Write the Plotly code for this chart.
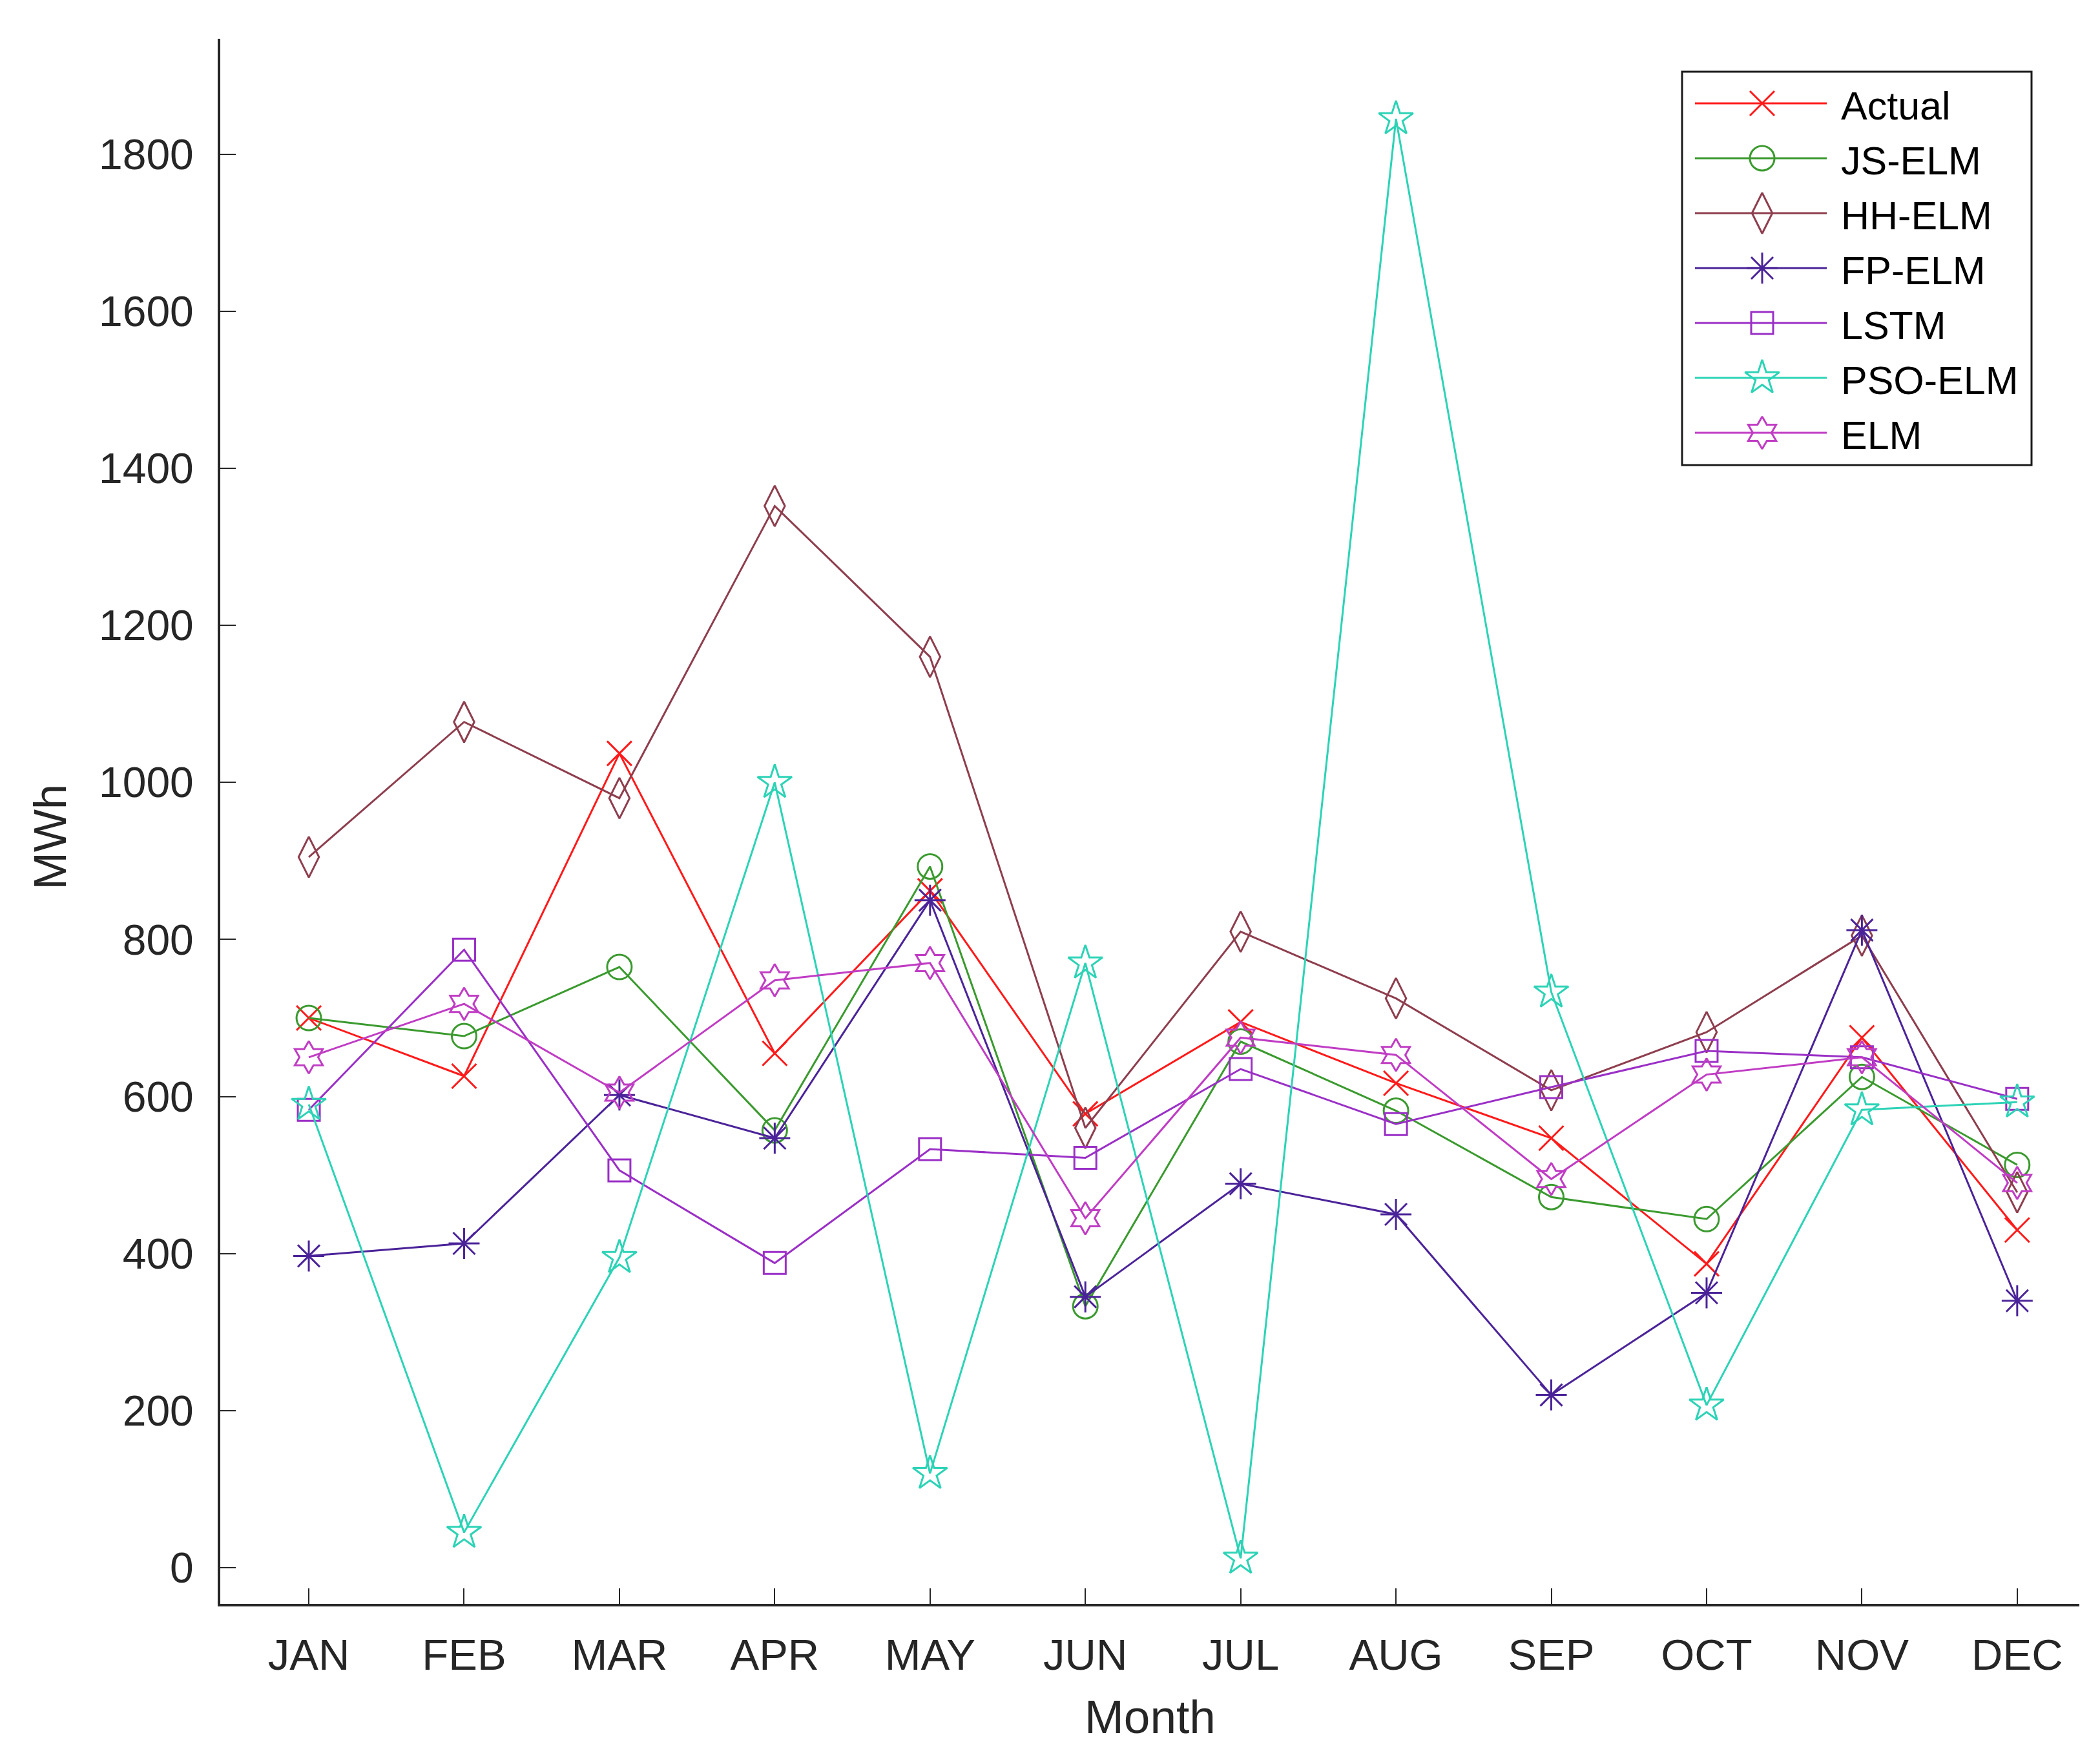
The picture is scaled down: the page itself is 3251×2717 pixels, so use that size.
import plotly.graph_objects as go

months = ["JAN", "FEB", "MAR", "APR", "MAY", "JUN", "JUL", "AUG", "SEP", "OCT", "NOV", "DEC"]
month_idx = list(range(1, 13))

actual = [700, 626, 1037, 655, 862, 578, 695, 617, 547, 387, 675, 430]
js_elm = [700, 677, 765, 557, 893, 333, 670, 582, 472, 444, 625, 513]
hh_elm = [905, 1077, 980, 1352, 1160, 560, 810, 725, 608, 682, 805, 478]
fp_elm = [397, 413, 602, 547, 850, 345, 489, 450, 220, 350, 812, 340]
lstm = [583, 787, 506, 388, 533, 522, 635, 565, 612, 658, 650, 597]
pso_elm = [590, 45, 395, 1000, 120, 770, 12, 1845, 733, 207, 583, 593]
elm = [650, 718, 605, 748, 770, 445, 675, 653, 495, 628, 650, 490]

y_ticks = [0, 200, 400, 600, 800, 1000, 1200, 1400, 1600, 1800]

series = [
    ("Actual", actual, "#FF1A1A", "x-thin-open", 38),
    ("JS-ELM", js_elm, "#3A9A2E", "circle-open", 38),
    ("HH-ELM", hh_elm, "#8E3E4E", "diamond-tall-open", 45),
    ("FP-ELM", fp_elm, "#4B2399", "asterisk-open", 40),
    ("LSTM", lstm, "#9A2FC6", "square-open", 34),
    ("PSO-ELM", pso_elm, "#2CD3B6", "star-open", 40),
    ("ELM", elm, "#C03CC4", "hexagram-open", 38),
]

# canvas / plot-area geometry (pixels)
W, H = 3251, 2717
ML, MR, MT, MB = 333, 40, 52, 242
PW, PH = W - ML - MR, H - MT - MB


def px_x(p):
    return (p - ML) / PW


def px_y(p):
    return (H - MB - p) / PH


font = "Liberation Sans, Arial, sans-serif"
txt = "#262626"

fig = go.Figure()
for name, vals, color, sym, size in series:
    fig.add_trace(go.Scatter(
        x=month_idx, y=vals, name=name, mode="lines+markers", showlegend=False,
        line=dict(color=color, width=3),
        marker=dict(symbol=sym, size=size, color=color, line=dict(color=color, width=3)),
    ))

# custom legend (MATLAB style: long line sample with marker in the middle)
box_l, box_r, box_t, box_b = 2596, 3137, 103, 712
row0, row_step = 152, 85
line_l, line_r, mark_x, text_x = 2616, 2820, 2720, 2840

shapes = [dict(type="rect", xref="paper", yref="paper",
               x0=px_x(box_l), x1=px_x(box_r), y0=px_y(box_b), y1=px_y(box_t),
               line=dict(color="#1a1a1a", width=3), fillcolor="white", layer="below")]
annotations = []
for i, (name, vals, color, sym, size) in enumerate(series):
    ry = px_y(row0 + row_step * i)
    fig.add_trace(go.Scatter(
        x=[px_x(line_l), px_x(line_r)], y=[ry, ry], mode="lines", xaxis="x2", yaxis="y2",
        showlegend=False, hoverinfo="skip", line=dict(color=color, width=3), cliponaxis=False,
    ))
    fig.add_trace(go.Scatter(
        x=[px_x(mark_x)], y=[ry], mode="markers", xaxis="x2", yaxis="y2",
        showlegend=False, hoverinfo="skip", cliponaxis=False,
        marker=dict(symbol=sym, size=size, color=color, line=dict(color=color, width=3)),
    ))
    annotations.append(dict(text=name, xref="paper", yref="paper", x=px_x(text_x), y=ry - 4 / PH,
                            xanchor="left", yanchor="middle", showarrow=False,
                            font=dict(family=font, size=61, color="#000000")))

annotations += [
    dict(text="Month", xref="paper", yref="paper", x=0.5, y=-0.072,
         xanchor="center", yanchor="middle", showarrow=False,
         font=dict(family=font, size=73, color=txt)),
    dict(text="MWh", xref="paper", yref="paper", x=-0.0915, y=0.49,
         xanchor="center", yanchor="middle", showarrow=False, textangle=-90,
         font=dict(family=font, size=70, color=txt)),
]

fig.update_layout(
    width=W, height=H,
    paper_bgcolor="white", plot_bgcolor="white",
    margin=dict(l=ML, r=MR, t=MT, b=MB),
    font=dict(family=font, size=64, color=txt),
    showlegend=False,
    shapes=shapes,
    annotations=annotations,
    xaxis=dict(
        range=[0.43, 12.4], tickmode="array", tickvals=month_idx, ticktext=months,
        ticks="inside", ticklen=24, tickwidth=2, tickcolor=txt,
        showline=True, linecolor=txt, linewidth=4, showgrid=False, zeroline=False,
        tickfont=dict(family=font, size=67, color=txt), ticklabelstandoff=18,
    ),
    yaxis=dict(
        range=[-46, 1947], tickmode="array", tickvals=y_ticks,
        ticks="inside", ticklen=24, tickwidth=2, tickcolor=txt,
        showline=True, linecolor=txt, linewidth=4, showgrid=False, zeroline=False,
        tickfont=dict(family=font, size=66, color=txt), ticklabelstandoff=24,
    ),
    xaxis2=dict(overlaying="x", anchor="y2", range=[0, 1], visible=False, fixedrange=True),
    yaxis2=dict(overlaying="y", anchor="x2", range=[0, 1], visible=False, fixedrange=True),
)

fig.write_html("out.html")
